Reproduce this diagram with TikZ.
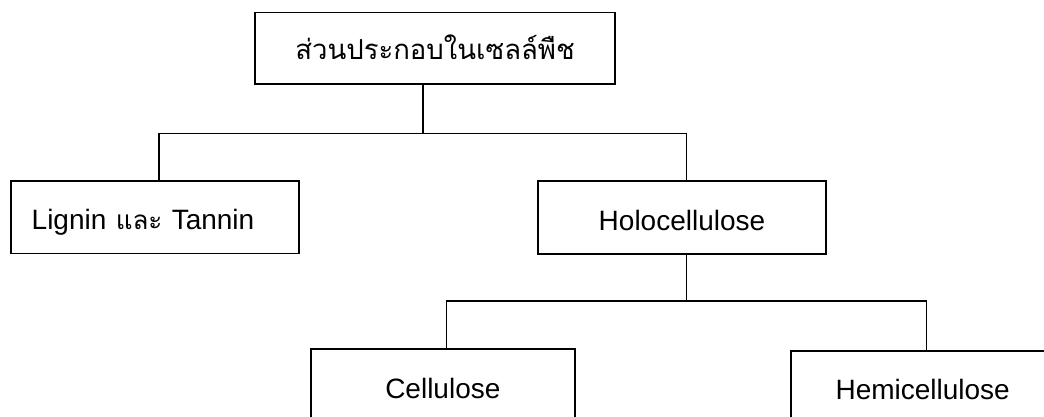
\documentclass[tikz,border=0pt]{standalone}
\usepackage{fontspec}
\setmainfont{Liberation Sans}
\newfontfamily\thaifont[Script=Thai]{Loma}
\begin{document}
\begin{tikzpicture}[x=1pt,y=-1pt,
  box/.style={draw=black, line width=1.7pt, fill=white, inner sep=0pt,
    text height=25.4pt, text depth=0pt,
    font=\fontsize{28}{31}\selectfont},
  link/.style={draw=black, line width=1.5pt}]
\useasboundingbox (0,0) rectangle (1044,417);
\clip (0,0) rectangle (1044,417);
\node[box, minimum width=360pt, minimum height=71.3pt, text height=23.4pt] (top) at (435,48.3)
  {\thaifont\fontsize{27.5}{31}\selectfont ส่วนประกอบในเซลล์พืช};
\node[box, minimum height=72.3pt, text width=246pt, inner xsep=21pt, align=left] (lig) at (154.7,217.2)
  {Lignin {\thaifont\fontsize{26}{31}\selectfont และ} Tannin};
\node[box, minimum width=288pt, minimum height=73pt] (holo) at (682,217.5) {Holocellulose};
\node[box, minimum width=264.3pt, minimum height=72pt] (cell) at (442.85,385.3) {Cellulose};
\node[box, minimum width=264pt, minimum height=72pt] (hemi) at (922.7,386.7) {Hemicellulose};
\coordinate (j1) at (423,133.5);
\coordinate (j2) at (686.5,301);
\draw[link] (top.south -| j1) -- (j1);
\draw[link] ([xshift=4.3pt]lig.north) |- (j1) -| ([xshift=4.5pt]holo.north);
\draw[link] (holo.south -| j2) -- (j2);
\draw[link] ([xshift=3.85pt]cell.north) |- (j2) -| ([xshift=4pt]hemi.north);
\end{tikzpicture}
\end{document}
